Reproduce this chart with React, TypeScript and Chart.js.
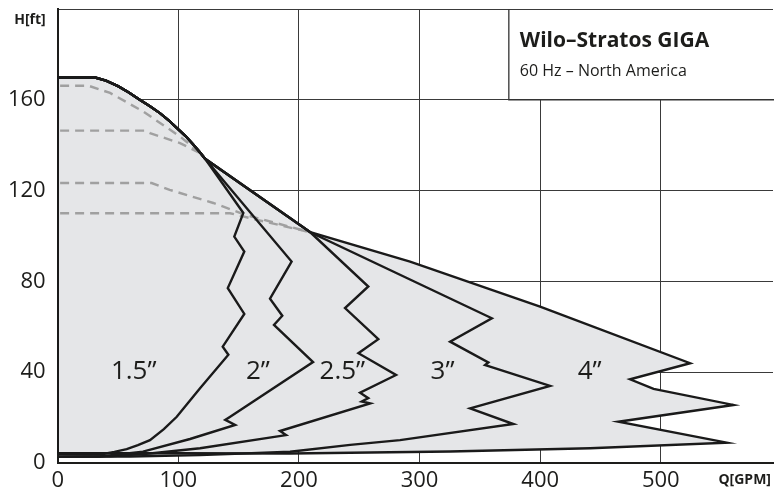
import React, { useEffect, useRef } from "react";
import { Chart, registerables } from "chart.js";

Chart.register(...registerables);

// ---- axes ----
const xMax = 593;
const yMax = 200;
const xTicks = [0, 100, 200, 300, 400, 500];
const yTicks = [0, 40, 80, 120, 160, 200];

// ---- shared maximum curve (Q in GPM, H in ft) ----
const topQ = [0, 31, 40, 50, 59, 68, 76.5, 85, 92.5, 100, 106, 112, 117, 122.2];
const topH = [169.8, 169.8, 168.4, 166, 163.2, 160, 157.1, 154, 150.7, 147, 144, 140.5, 137.4, 134];

// ---- right / lower outline of each pipe size region ----
const size15Q = [153.9, 146.4, 154.7, 141, 154.7, 136.8, 141.5, 118, 112.4, 98.7, 88, 76.5, 66.5, 57.2, 47, 37.8, 0];
const size15H = [110.1, 99.7, 93.1, 77, 65.6, 51.2, 47.6, 32.9, 29.2, 20.3, 14.8, 10, 7.8, 6, 4.8, 3.9, 4];

const size2Q = [193.9, 176, 186.2, 179.3, 211.7, 143, 138.9, 147.1, 109.7, 70.7, 35.1, 0];
const size2H = [88.7, 72.3, 64.8, 60.8, 44.4, 20.3, 18.9, 16.7, 10.5, 4.9, 2.8, 2.7];

const size25Q = [209.4, 257.5, 238.2, 265.8, 249.3, 280.5, 250.7, 257.5, 252.1, 259, 184.3, 189.3, 118, 76.5, 43.4, 0];
const size25H = [101.6, 77.7, 68.2, 54.5, 48.3, 38.7, 30.9, 28.5, 27, 26.2, 14, 12.2, 6.4, 4.1, 2.9, 2.7];

const size3Q = [209.4, 359.9, 325.3, 357, 354.3, 358.4, 408.2, 341.9, 377.8, 283.8, 242.5, 192.6, 118, 60, 0];
const size3H = [101.6, 63.7, 53.4, 44.2, 43.1, 42.4, 33.9, 24, 17.1, 10, 7.9, 4.9, 3.4, 2.8, 2.7];

const size4Q = [209.4, 292.1, 399.9, 524.3, 474.5, 494, 560.2, 464.8, 554.7, 441.4, 325.3, 192.6, 0];
const size4H = [101.6, 88.7, 68.8, 43.9, 36.8, 32.6, 25.5, 18.1, 8.9, 6.4, 5, 4.1, 4.3];

// ---- dashed reduced-speed curves ----
const dash1Q = [2, 25.4, 43.4, 70.7, 101.4, 118, 122.2];
const dash1H = [166.2, 166.2, 163, 154.9, 143.8, 136.7, 134];
const dash2Q = [2, 72.4, 76.5, 101.4, 118, 122.2];
const dash2H = [146.4, 146.4, 145.3, 140.9, 136.5, 134];
const dash3Q = [2, 77.9, 92.8, 129, 155.4, 209.4];
const dash3H = [123.3, 123.3, 120.3, 114.5, 109.3, 101.6];
const dash4Q = [2, 142.9, 165, 209.4];
const dash4H = [110, 110, 107.1, 101.6];

// ---- region labels ----
const sizeLabels = ["1.5\u201D", "2\u201D", "2.5\u201D", "3\u201D", "4\u201D"];
const labelQ = [63, 166, 236, 319, 441];
const labelH = [40, 40, 40, 40, 40];

const titleText = "Wilo\u2013Stratos GIGA";
const subtitleText = "60 Hz \u2013 North America";
const yAxisTitle = "H[ft]";
const xAxisTitle = "Q[GPM]";
const boxLeftQ = 374;
const boxBottomH = 160;

const FONT = '"Open Sans", "Noto Sans", sans-serif';
const INK = "#1d1d1b";

const pts = (qs: number[], hs: number[]) => qs.map((q, i) => ({ x: q, y: hs[i] }));

function regionPoints(edgeQ: number[], edgeH: number[]) {
  const start = { x: 0, y: edgeH[edgeH.length - 1] };
  return [start, ...pts(topQ, topH), ...pts(edgeQ, edgeH)];
}

const annotPlugin = {
  id: "annot",
  afterDatasetsDraw(chart: any) {
    const { ctx, scales, chartArea } = chart;
    const x = scales.x;
    const y = scales.y;
    ctx.save();
    ctx.fillStyle = INK;
    ctx.font = `26px ${FONT}`;
    ctx.textAlign = "center";
    ctx.textBaseline = "middle";
    sizeLabels.forEach((t, i) => {
      ctx.fillText(t, x.getPixelForValue(labelQ[i]), y.getPixelForValue(labelH[i]));
    });
    const bx = x.getPixelForValue(boxLeftQ);
    const by0 = chartArea.top;
    const by1 = y.getPixelForValue(boxBottomH);
    ctx.fillStyle = "#ffffff";
    ctx.fillRect(bx, by0 + 1, chart.width - bx, by1 - by0 - 1);
    ctx.strokeStyle = "#333333";
    ctx.lineWidth = 1.3;
    ctx.beginPath();
    ctx.moveTo(bx, by0);
    ctx.lineTo(bx, by1);
    ctx.lineTo(chart.width, by1);
    ctx.stroke();
    ctx.fillStyle = INK;
    ctx.textAlign = "left";
    ctx.textBaseline = "alphabetic";
    ctx.font = `bold 21px ${FONT}`;
    ctx.fillText(titleText, bx + 11, by0 + 37.5);
    ctx.font = `16px ${FONT}`;
    ctx.fillText(subtitleText, bx + 11, by0 + 67);
    ctx.font = `bold 14px ${FONT}`;
    ctx.textAlign = "right";
    ctx.fillText(yAxisTitle, chartArea.left - 12, 24);
    ctx.fillText(xAxisTitle, chart.width - 3, chartArea.bottom + 21);
    ctx.restore();
  },
};

export default function App() {
  const ref = useRef<HTMLCanvasElement | null>(null);
  useEffect(() => {
    if (!ref.current) return;
    const solid = (label: string, data: any[]) => ({
      label,
      data,
      showLine: true,
      borderColor: "#1a1a1a",
      borderWidth: 2.4,
      pointRadius: 0,
      fill: false,
      order: 0,
      borderJoinStyle: "miter" as const,
    });
    const dashed = (label: string, data: any[]) => ({
      label,
      data,
      showLine: true,
      borderColor: "#a0a0a0",
      borderWidth: 2.4,
      borderDash: [9, 6],
      pointRadius: 0,
      fill: false,
      order: 5,
    });
    const envelope = [
      { x: 0, y: 2.7 },
      ...pts(topQ, topH),
      ...pts(size4Q.slice(0, -2), size4H.slice(0, -2)),
      ...pts(size3Q.slice(-4), size3H.slice(-4)),
    ];
    const chart = new Chart(ref.current, {
      type: "scatter",
      data: {
        datasets: [
          solid("1.5", regionPoints(size15Q, size15H)),
          solid("2", regionPoints(size2Q, size2H)),
          solid("2.5", regionPoints(size25Q, size25H)),
          solid("3", regionPoints(size3Q, size3H)),
          solid("4", regionPoints(size4Q, size4H)),
          dashed("d1", pts(dash1Q, dash1H)),
          dashed("d2", pts(dash2Q, dash2H)),
          dashed("d3", pts(dash3Q, dash3H)),
          dashed("d4", pts(dash4Q, dash4H)),
          {
            label: "envelope",
            data: envelope,
            showLine: true,
            borderWidth: 0,
            borderColor: "rgba(0,0,0,0)",
            backgroundColor: "#e5e6e8",
            pointRadius: 0,
            fill: "shape",
            order: 10,
          } as any,
        ],
      },
      options: {
        animation: false,
        responsive: false,
        layout: { padding: { top: 9, right: 1, left: 0, bottom: 0 } },
        plugins: { legend: { display: false }, tooltip: { enabled: false } },
        elements: { point: { radius: 0 }, line: { tension: 0 } },
        scales: {
          x: {
            type: "linear",
            min: 0,
            max: xMax,
            afterBuildTicks(s: any) {
              s.ticks = xTicks.map((v) => ({ value: v }));
            },
            ticks: {
              padding: 5,
              maxRotation: 0,
              autoSkip: false,
              color: INK,
              font: { family: FONT, size: 22 },
              callback: (v: any) => String(v),
            },
            grid: { color: "#3a3a3a", lineWidth: 1, drawTicks: false },
            border: { color: "#1d1d1b", width: 2 },
            afterFit(s: any) {
              s.height = 28.2;
              s.paddingLeft = 0;
              s.paddingRight = 0;
              s.paddingTop = 0;
              s.paddingBottom = 0;
            },
          },
          y: {
            type: "linear",
            min: 0,
            max: yMax,
            afterBuildTicks(s: any) {
              s.ticks = yTicks.map((v) => ({ value: v }));
            },
            ticks: {
              padding: 12,
              autoSkip: false,
              color: INK,
              font: { family: FONT, size: 22 },
              callback: (v: any) => (v === yMax ? "" : String(v)),
            },
            grid: { color: "#3a3a3a", lineWidth: 1, drawTicks: false },
            border: { color: "#1d1d1b", width: 2 },
            afterFit(s: any) {
              s.width = 57.7;
              s.paddingLeft = 0;
              s.paddingRight = 0;
              s.paddingTop = 0;
              s.paddingBottom = 0;
            },
          },
        },
      } as any,
      plugins: [annotPlugin],
    });
    return () => chart.destroy();
  }, []);
  return (
    <div style={{ position: "absolute", left: 0, top: 0, width: 774, height: 491, background: "#fff" }}>
      <canvas ref={ref} width={774} height={491} style={{ width: 774, height: 491, display: "block" }} />
    </div>
  );
}
